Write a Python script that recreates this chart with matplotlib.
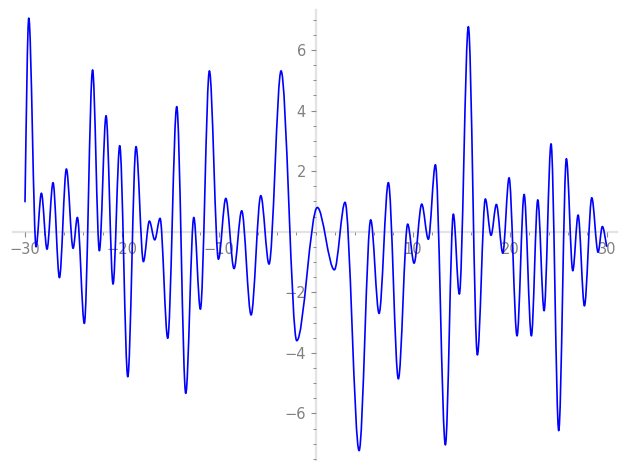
import matplotlib
matplotlib.use("Agg")
import matplotlib.pyplot as plt
from matplotlib.path import Path
from matplotlib.patches import PathPatch
from matplotlib.ticker import MultipleLocator

# Curve key points: start, every local max/min, end
x_pts = [-30.0, -29.61, -28.86, -28.31, -27.73, -27.11, -26.45, -25.73, -25.04, -24.6,
         -23.88, -23.03, -22.33, -21.64, -20.92, -20.23, -19.40, -18.55, -17.79, -17.17,
         -16.62, -16.07, -15.28, -14.35, -13.42, -12.59, -11.91, -10.98, -10.05, -9.29,
         -8.44, -7.65, -6.68, -5.68, -4.83, -3.59, -1.97, 0.15, 1.91, 3.01,
         4.46, 5.66, 6.52, 7.48, 8.51, 9.47, 10.13, 10.92, 11.6, 12.33,
         13.36, 14.18, 14.8, 15.73, 16.66, 17.48, 18.07, 18.62, 19.28, 19.93,
         20.75, 21.48, 22.23, 22.89, 23.54, 24.26, 25.05, 25.84, 26.5, 27.05,
         27.7, 28.46, 29.11, 29.55, 30.0]
y_pts = [0.99, 7.05, -0.50, 1.27, -0.58, 1.62, -1.52, 2.07, -0.55, 0.47,
         -3.03, 5.34, -0.63, 3.83, -1.73, 2.84, -4.79, 2.81, -0.99, 0.35,
         -0.27, 0.44, -3.52, 4.13, -5.34, 0.47, -2.56, 5.31, -0.91, 1.10,
         -1.22, 0.69, -2.75, 1.19, -1.07, 5.31, -3.60, 0.80, -1.26, 0.97,
         -7.23, 0.39, -2.70, 1.62, -4.86, 0.25, -1.04, 0.91, -0.25, 2.21,
         -7.04, 0.58, -2.06, 6.77, -4.07, 1.08, -0.12, 0.90, -0.71, 1.78,
         -3.44, 1.23, -3.44, 1.05, -2.61, 2.90, -6.57, 2.41, -1.29, 0.55,
         -2.45, 1.12, -0.68, 0.17, -0.48]

x_ticks = [-30, -20, -10, 10, 20, 30]
y_ticks = [-6, -4, -2, 2, 4, 6]

W, H = 627, 470
fig = plt.figure(figsize=(W / 100, H / 100), dpi=100)
ax = fig.add_axes([12.7 / W, 10 / H, 604 / W, 450 / H])
ax.set_xlim(-31.27, 31.03)
ax.set_ylim(-7.54, 7.32)

# Smooth curve through the read points: cubic Bezier segments with flat
# tangents at the extrema, rendered by matplotlib's path machinery.
verts = [(x_pts[0], y_pts[0])]
codes = [Path.MOVETO]
n = len(x_pts)
for i in range(n - 1):
    x0, y0, x1, y1 = x_pts[i], y_pts[i], x_pts[i + 1], y_pts[i + 1]
    dx = x1 - x0
    if i == 0:
        c1 = (x0 + dx / 3, y0 + (y1 - y0) * 0.45)
    else:
        c1 = (x0 + dx / 3, y0)
    if i == n - 2:
        c2 = (x1 - dx / 3, y1 - (y1 - y0) * 0.35)
    else:
        c2 = (x1 - dx / 3, y1)
    verts += [c1, c2, (x1, y1)]
    codes += [Path.CURVE4] * 3
ax.add_patch(PathPatch(Path(verts, codes), fill=False, edgecolor="#0000ff",
                       linewidth=1.2, zorder=3, capstyle="round", joinstyle="round"))

for s in ["top", "right"]:
    ax.spines[s].set_visible(False)
ax.spines["left"].set_position(("data", 0))
ax.spines["bottom"].set_position(("data", 0))
for s in ["left", "bottom"]:
    ax.spines[s].set_color("#e3e3e3")
    ax.spines[s].set_linewidth(1.6)
    ax.spines[s].set_zorder(1)

ax.set_xticks(x_ticks)
ax.set_yticks(y_ticks)
ax.xaxis.set_minor_locator(MultipleLocator(2))
ax.yaxis.set_minor_locator(MultipleLocator(0.5))
ax.tick_params(which="major", length=3.6, width=0.8, color="#8c8c8c",
               labelcolor="#808080", labelsize=10.5, pad=3.5, direction="out")
ax.tick_params(which="minor", length=2.2, width=0.7, color="#8c8c8c", direction="out")
ax.set_facecolor("white")
ax.patch.set_visible(False)

fig.savefig("out.png", dpi=100, facecolor="white")
